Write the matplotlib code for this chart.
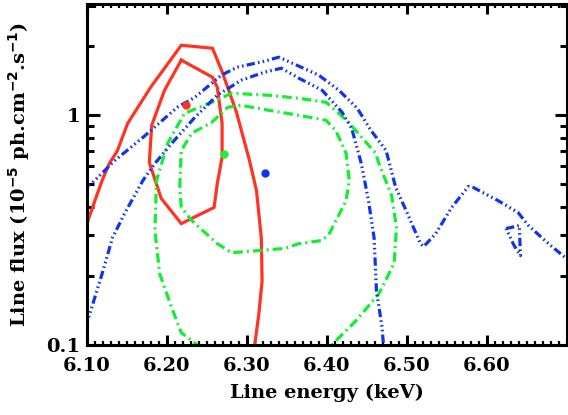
import numpy as np
import matplotlib
matplotlib.use("Agg")
import matplotlib.pyplot as plt
from matplotlib.ticker import FixedLocator, MultipleLocator, NullFormatter

plt.rcParams['font.family'] = ['DejaVu Serif']
plt.rcParams['font.weight'] = 'bold'
plt.rcParams['mathtext.default'] = 'bf'

# ----------------------------
# データ（図から読み取った等高線の頂点）
# ----------------------------
# 赤：実線（外側は開いた曲線、内側は閉曲線）
red_outer_x = [6.095, 6.110, 6.119, 6.128, 6.138, 6.151, 6.180, 6.218, 6.257,
               6.269, 6.287, 6.303, 6.312, 6.318, 6.319, 6.315, 6.309]
red_outer_y = [0.30, 0.425, 0.52, 0.617, 0.70, 0.923, 1.33, 2.02, 1.96,
               1.55, 1.03, 0.64, 0.47, 0.293, 0.190, 0.137, 0.095]
red_inner_x = [6.218, 6.257, 6.263, 6.269, 6.269, 6.263, 6.259, 6.218,
               6.193, 6.178, 6.181, 6.197, 6.218]
red_inner_y = [1.74, 1.465, 1.325, 0.923, 0.656, 0.505, 0.397, 0.3375,
               0.434, 0.623, 0.904, 1.286, 1.74]

# 緑：一点鎖線
green_outer_x = [6.243, 6.218, 6.206, 6.191, 6.185, 6.187, 6.201, 6.222, 6.256,
                 6.281, 6.328, 6.365, 6.399, 6.415, 6.428, 6.436, 6.461, 6.465,
                 6.481, 6.487, 6.484, 6.465, 6.436, 6.411, 6.403]
green_outer_y = [0.097, 0.113, 0.145, 0.204, 0.315, 0.520, 0.755, 1.02, 1.14,
                 1.248, 1.223, 1.186, 1.14, 1.02, 0.923, 0.860, 0.683, 0.617,
                 0.447, 0.324, 0.226, 0.167, 0.127, 0.104, 0.097]
green_inner_x = [6.216, 6.218, 6.231, 6.256, 6.276, 6.293, 6.328, 6.365, 6.399,
                 6.411, 6.424, 6.428, 6.424, 6.403, 6.394, 6.365, 6.347, 6.281,
                 6.263, 6.231, 6.218, 6.216]
green_inner_y = [0.485, 0.703, 0.835, 0.932, 1.084, 1.105, 1.051, 1.0, 0.951,
                 0.860, 0.683, 0.520, 0.425, 0.305, 0.285, 0.276, 0.263, 0.252,
                 0.276, 0.348, 0.397, 0.485]

# 青：三点鎖線
blue_outer_x = [6.095, 6.106, 6.135, 6.170, 6.213, 6.235, 6.268, 6.288, 6.322,
                6.340, 6.365, 6.390, 6.415, 6.438, 6.455, 6.474, 6.486, 6.499,
                6.517, 6.521, 6.536, 6.556, 6.577, 6.583, 6.614, 6.639, 6.652,
                6.677, 6.698, 6.705]
blue_outer_y = [0.48, 0.505, 0.636, 0.801, 1.084, 1.198, 1.495, 1.621, 1.721,
                1.792, 1.637, 1.495, 1.286, 1.073, 0.860, 0.703, 0.485, 0.385,
                0.276, 0.268, 0.305, 0.397, 0.490, 0.485, 0.425, 0.377, 0.331,
                0.276, 0.240, 0.232]
blue_loop_x = [6.624, 6.6405, 6.642, 6.634, 6.624]
blue_loop_y = [0.321, 0.331, 0.245, 0.271, 0.321]
blue_inner_x = [6.098, 6.119, 6.132, 6.147, 6.170, 6.185, 6.206, 6.235, 6.263,
                6.293, 6.322, 6.343, 6.365, 6.394, 6.419, 6.431, 6.443, 6.452,
                6.459, 6.462, 6.469, 6.471]
blue_inner_y = [0.118, 0.204, 0.293, 0.373, 0.520, 0.617, 0.755, 0.980, 1.223,
                1.422, 1.541, 1.604, 1.451, 1.286, 1.031, 0.877, 0.617, 0.425,
                0.293, 0.172, 0.119, 0.097]

# ベストフィット点
best_x = [6.224, 6.271, 6.323]
best_y = [1.105, 0.676, 0.558]
best_colors = ["#ff3322", "#22ee33", "#1133ee"]

RED = "#ff3322"
GREEN = "#11ee33"
BLUE = "#1133ee"

# ----------------------------
# 描画
# ----------------------------
fig = plt.figure(figsize=(5.68, 4.15), dpi=100)
ax = fig.add_axes([0.153, 0.169, 0.845, 0.821])

lw = 2.3
ax.plot(red_outer_x, red_outer_y, color=RED, lw=lw, solid_joinstyle="miter")
ax.plot(red_inner_x, red_inner_y, color=RED, lw=lw, solid_joinstyle="miter")

green_dash = (0, (3.0, 1.3, 0.6, 1.3))
ax.plot(green_outer_x, green_outer_y, color=GREEN, lw=lw, linestyle=green_dash)
ax.plot(green_inner_x, green_inner_y, color=GREEN, lw=lw, linestyle=green_dash)

blue_dash = (0, (2.6, 1.0, 0.5, 1.0, 0.5, 1.0, 0.5, 1.0))
ax.plot(blue_outer_x, blue_outer_y, color=BLUE, lw=lw, linestyle=blue_dash)
ax.plot(blue_inner_x, blue_inner_y, color=BLUE, lw=lw, linestyle=blue_dash)
ax.plot(blue_loop_x, blue_loop_y, color=BLUE, lw=lw, linestyle=blue_dash)

for bx, by, bc in zip(best_x, best_y, best_colors):
    ax.plot(bx, by, "o", color=bc, markersize=6, markeredgewidth=0)

ax.set_yscale("log")
ax.set_xlim(6.1, 6.7)
ax.set_ylim(0.1, 3.05)

ax.xaxis.set_major_locator(FixedLocator([6.1, 6.2, 6.3, 6.4, 6.5, 6.6]))
ax.xaxis.set_minor_locator(MultipleLocator(0.01))
ax.set_xticklabels(["6.10", "6.20", "6.30", "6.40", "6.50", "6.60"])
ax.yaxis.set_major_locator(FixedLocator([0.1, 1]))
ax.set_yticklabels(["0.1", "1"])
ax.yaxis.set_minor_locator(FixedLocator([0.2, 0.3, 0.4, 0.5, 0.6, 0.7, 0.8, 0.9, 2, 3]))
ax.yaxis.set_minor_formatter(NullFormatter())

ax.tick_params(which="both", direction="in", top=True, right=True, width=2.2,
               labelsize=14)
ax.tick_params(axis="y", which="major", length=9, pad=5)
ax.tick_params(axis="y", which="minor", length=5)
ax.tick_params(axis="x", which="major", length=7, pad=9)
ax.tick_params(axis="x", which="minor", length=3, width=1.6)
for s in ax.spines.values():
    s.set_linewidth(2.2)

ax.set_xlabel("Line energy (keV)", fontsize=14, fontweight="bold", labelpad=6)
ax.set_ylabel(r"Line flux (10$^{-5}$ ph.cm$^{-2}$.s$^{-1}$)", fontsize=14,
              fontweight="bold", labelpad=10)

fig.savefig("out.png", dpi=100)
